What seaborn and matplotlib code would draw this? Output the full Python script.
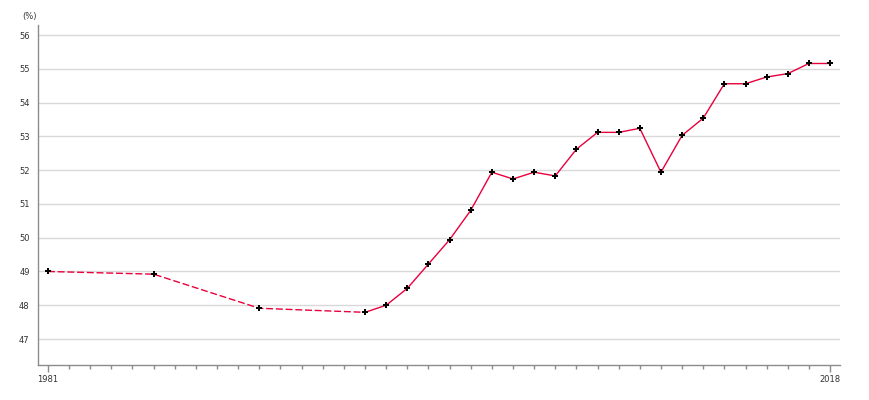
import pandas as pd
import matplotlib.pyplot as plt
import seaborn as sns

years = [1981, 1986, 1991, 1996, 1997, 1998, 1999, 2000, 2001, 2002, 2003, 2004,
         2005, 2006, 2007, 2008, 2009, 2010, 2011, 2012, 2013, 2014, 2015, 2016,
         2017, 2018]
values = [49.0, 48.92, 47.91, 47.79, 48.0, 48.5, 49.22, 49.94, 50.81, 51.94, 51.74, 51.94,
          51.83, 52.62, 53.12, 53.12, 53.24, 51.94, 53.03, 53.54, 54.56, 54.56, 54.76, 54.86,
          55.16, 55.16]
yticks = [47, 48, 49, 50, 51, 52, 53, 54, 55, 56]
labelled_years = [1981, 2018]
unit_label = "(%)"

LINE_COLOR = "#e8003c"
AXIS_COLOR = "#8c8c8c"
GRID_COLOR = "#d9d9d9"

df = pd.DataFrame({"year": years, "value": values})
sparse = df[df["year"] <= 1996]
annual = df[df["year"] >= 1996]

sns.set_theme(style="white")
plt.rcParams["font.family"] = ["DejaVu Sans"]

fig = plt.figure(figsize=(8.7, 4), dpi=100)
ax = fig.add_axes([38 / 870, 1 - 365 / 400, (840 - 38) / 870, (365 - 25) / 400])

sns.lineplot(data=sparse, x="year", y="value", ax=ax, color=LINE_COLOR,
             linewidth=1, linestyle=(0, (5, 2)))
sns.lineplot(data=annual, x="year", y="value", ax=ax, color=LINE_COLOR, linewidth=1)
sns.scatterplot(data=df, x="year", y="value", ax=ax, color="black", marker="P",
                s=22, linewidth=0, zorder=5)

ax.set_xlim(1980.53, 2018.47)
ax.set_ylim(46.23, 56.3)
ax.set_yticks(yticks)

# labelled years get long major ticks, every other year a short minor tick
ax.set_xticks(labelled_years)
ax.set_xticklabels([str(y) for y in labelled_years])
ax.set_xticks([y for y in range(1981, 2019) if y not in labelled_years], minor=True)

ax.yaxis.grid(True, color=GRID_COLOR, linewidth=1)
ax.set_axisbelow(True)
ax.set_xlabel("")
ax.set_ylabel("")

for side in ["top", "right"]:
    ax.spines[side].set_visible(False)
for side in ["left", "bottom"]:
    ax.spines[side].set_color(AXIS_COLOR)
    ax.spines[side].set_linewidth(1)

ax.tick_params(axis="x", which="major", length=5, width=1, color=AXIS_COLOR,
               labelsize=6, labelcolor="#333333", pad=2, bottom=True)
ax.tick_params(axis="x", which="minor", length=3, width=1, color=AXIS_COLOR, bottom=True)
ax.tick_params(axis="y", length=0, labelsize=6, labelcolor="#333333", pad=6)

fig.text(22 / 870, 1 - 17 / 400, unit_label, fontsize=6, color="#333333",
         ha="left", va="center")

fig.savefig("out.png", dpi=100)
